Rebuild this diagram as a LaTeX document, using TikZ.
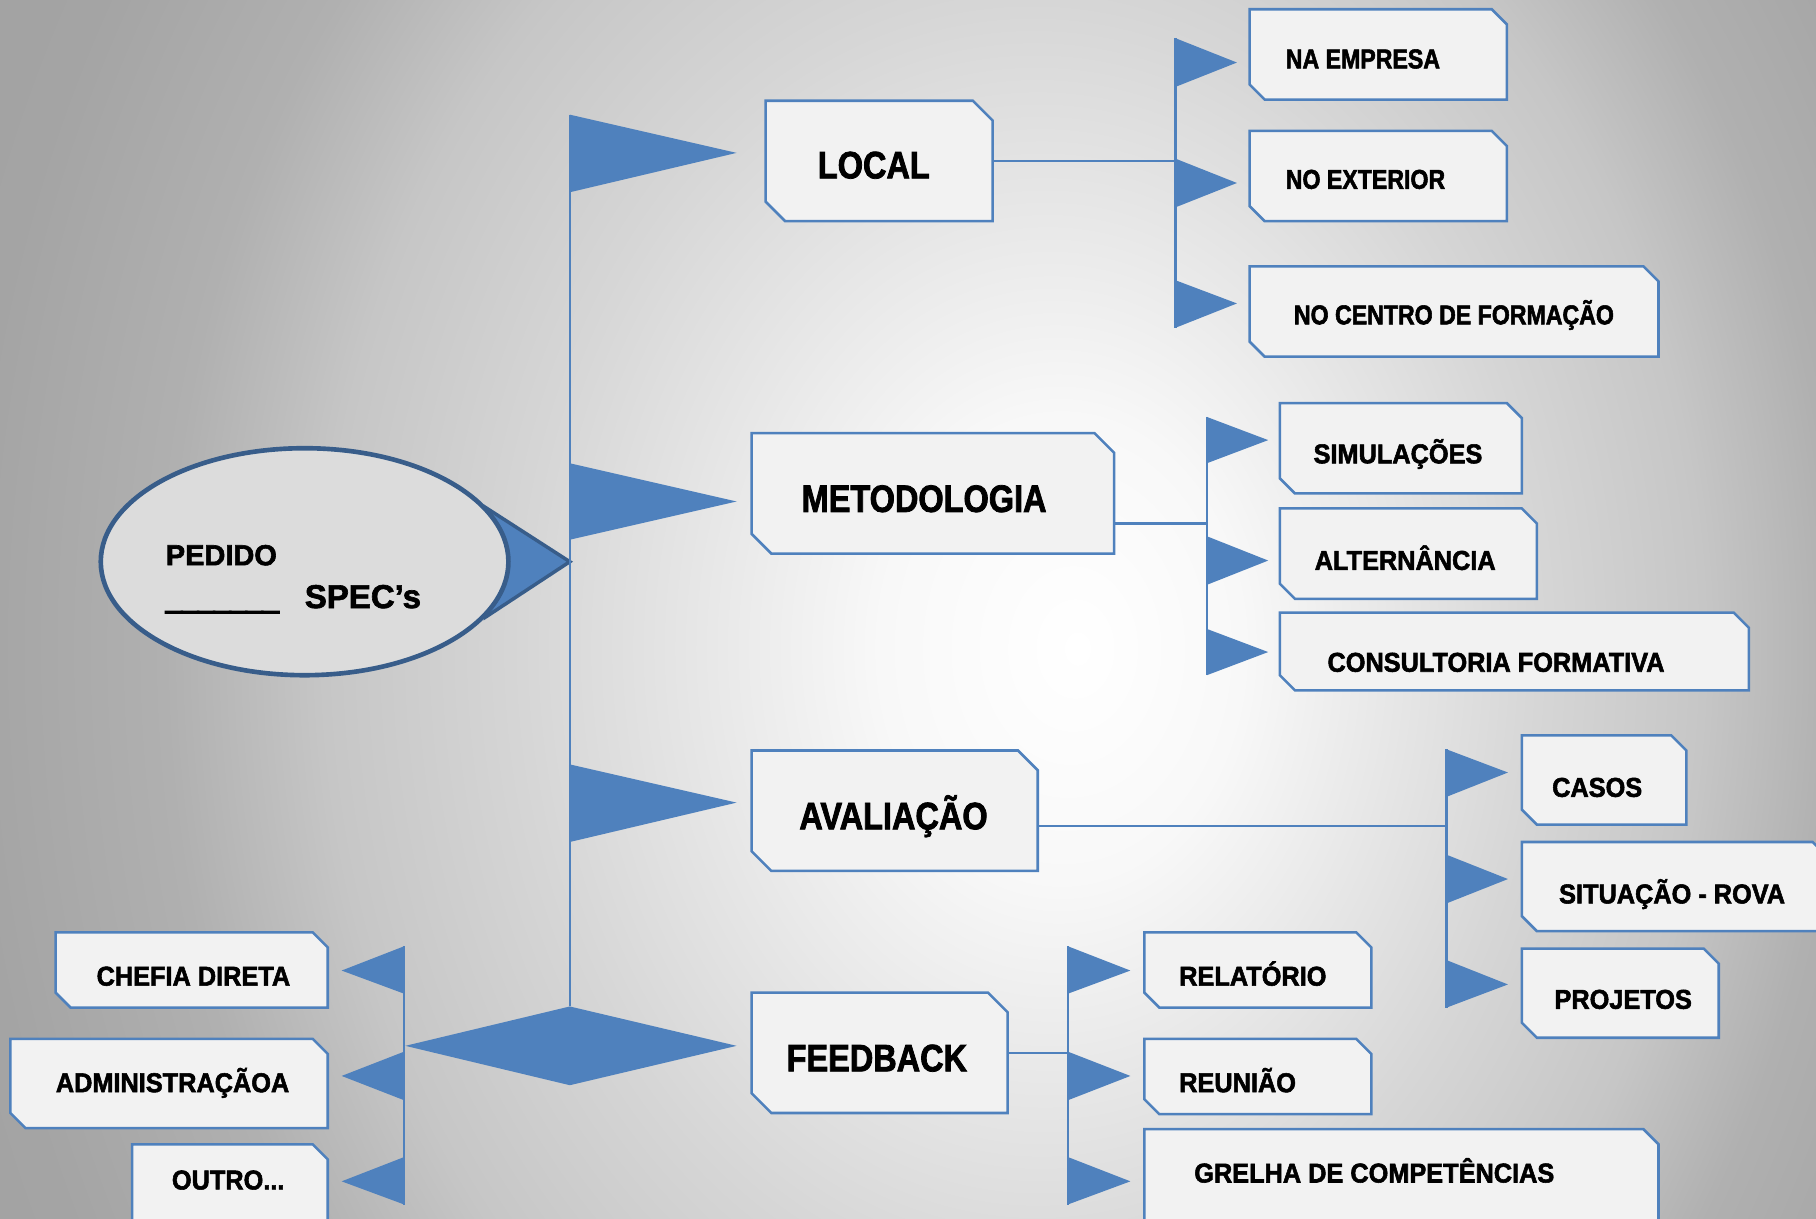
\documentclass[tikz,border=0pt]{standalone}
\usepackage{fontspec}
\newfontfamily\mainfnt{Liberation Sans}[FakeStretch=0.85, BoldFeatures={FakeBold=2}]
\newfontfamily\subfnt{Liberation Sans}[FakeStretch=0.93, BoldFeatures={FakeBold=2}]
\newfontfamily\ellfont{Liberation Sans}[BoldFeatures={FakeBold=2}]
\newfontfamily\ulfont{Liberation Sans}[BoldFeatures={FakeBold=7}]
\usetikzlibrary{shapes.geometric}
\definecolor{flagblue}{HTML}{4F81BD}
\definecolor{ellblue}{HTML}{385D8A}
\definecolor{boxgray}{HTML}{F2F2F2}
\definecolor{ellgray}{HTML}{DCDCDC}
\definecolor{bgA}{HTML}{F8F8F8}
\definecolor{bgB}{HTML}{D6D6D6}
\definecolor{bgC}{HTML}{C6C6C6}
\definecolor{bgD}{HTML}{B0B0B0}
\definecolor{bgE}{HTML}{A4A4A4}
\definecolor{bgF}{HTML}{969696}
\pgfdeclareradialshading{bgshade}{\pgfpoint{4.7bp}{0bp}}{color(0bp)=(white); color(5bp)=(bgA); color(14bp)=(bgB); color(19bp)=(bgC); color(23bp)=(bgD); color(28bp)=(bgE); color(50bp)=(bgF)}
\newcommand\snipbox[6]{%
  \node[boxanchor, minimum width=#4pt, minimum height=#5pt] (#1) at (#2,#3) {};
  \path[boxsh] (#1.north west) -- ([xshift=-#6pt]#1.north east) -- ([yshift=-#6pt]#1.north east) -- (#1.south east) -- ([xshift=#6pt]#1.south west) -- ([yshift=#6pt]#1.south west) -- cycle;}
\newcommand\flagR[5]{\fill[flagfill] (#1,#2) -- (#1,#3) -- (#4,#5) -- cycle;}
\begin{document}
\begin{tikzpicture}[x=1pt,y=-1pt,
  conn/.style={draw=flagblue, line width=2pt},
  flagfill/.style={fill=flagblue},
  boxsh/.style={fill=boxgray, draw=flagblue, line width=2.2pt, line join=miter},
  boxanchor/.style={rectangle, inner sep=0pt, outer sep=0pt, anchor=north west, draw=none},
  maintext/.style={font=\mainfnt\bfseries\fontsize{33}{36}\selectfont, inner sep=0pt, anchor=base west},
  loctext/.style={font=\mainfnt\bfseries\fontsize{23.5}{26}\selectfont, inner sep=0pt, anchor=base west},
  subtext/.style={font=\subfnt\bfseries\fontsize{23.5}{26}\selectfont, inner sep=0pt, anchor=base west},
  subtextc/.style={font=\subfnt\bfseries\fontsize{23.5}{26}\selectfont, inner sep=0pt, anchor=base}]
\useasboundingbox (0,0) rectangle (1568,1052);
\begin{scope}
  \clip (0,0) rectangle (1568,1052);
  \shade[shading=bgshade] (0,-440) rectangle (1568,1560);
\end{scope}

% ---------- central ellipse ----------
\filldraw[fill=flagblue, draw=ellblue, line width=3pt, line join=miter] (419,438) -- (492,485) -- (419,533) -- cycle;
\node[ellipse, draw=ellblue, line width=4pt, fill=ellgray, minimum width=352pt, minimum height=196pt, inner sep=0pt] (pedido) at (263,485) {};
\node[font=\ellfont\bfseries\fontsize{25}{28}\selectfont, inner sep=0pt, anchor=base west] (tPedido) at (143,488) {PEDIDO};
\node[font=\ulfont\bfseries\fontsize{25}{28}\selectfont, inner sep=0pt, anchor=base west] (tLine) at (143,526) {\_\_\_\_\_\_\_};
\node[font=\ellfont\bfseries\fontsize{28.5}{30}\selectfont, inner sep=0pt, anchor=base west] (tSpec) at (263,525) {SPEC’s};

% ---------- main bar ----------
\coordinate (mainT) at (492,99);
\coordinate (mainB) at (492,869);
\draw[conn] (mainT) -- (mainB);
\flagR{492}{99}{166}{636}{132}
\flagR{492}{400}{466}{636}{433}
\flagR{492}{660}{727}{636}{693}
\fill[flagfill] (350,903) -- (492,869) -- (636,903) -- (492,937) -- cycle;

% ---------- main boxes ----------
\snipbox{bLocal}{661}{87}{196}{104}{17}
\snipbox{bMetod}{649}{374}{313}{104}{17}
\snipbox{bAval}{649}{648}{247}{104}{17}
\snipbox{bFeed}{649}{857}{221}{104}{17}
\node[maintext] (tLocal) at (706,154) {LOCAL};
\node[maintext] (tMetod) at (692,442) {METODOLOGIA};
\node[maintext] (tAval) at (690,716) {AVALIAÇÃO};
\node[maintext] (tFeed) at (679,925) {FEEDBACK};

% ---------- LOCAL branch ----------
\coordinate (lJoin) at (1015,139);
\coordinate (lT) at (1015,33);
\coordinate (lB) at (1015,283);
\draw[conn] (bLocal.east |- lJoin) -- (lJoin);
\draw[conn] (lT) -- (lB);
\flagR{1015}{33}{75}{1068}{54}
\flagR{1015}{137}{179}{1068}{158}
\flagR{1015}{242}{283}{1068}{262}
\snipbox{bEmp}{1079}{8}{222}{78}{13}
\snipbox{bExt}{1079}{113}{222}{78}{13}
\snipbox{bCen}{1079}{230}{353}{78}{13}
\node[loctext] (tEmp) at (1110,59) {NA EMPRESA};
\node[loctext] (tExt) at (1110,163) {NO EXTERIOR};
\node[loctext] (tCen) at (1117,280) {NO CENTRO DE FORMAÇÃO};

% ---------- METODOLOGIA branch ----------
\coordinate (mJoin) at (1042,452);
\coordinate (mT) at (1042,360);
\coordinate (mB) at (1042,583);
\draw[conn] (bMetod.east |- mJoin) -- (mJoin);
\draw[conn] (mT) -- (mB);
\flagR{1042}{360}{400}{1095}{380}
\flagR{1042}{463}{505}{1095}{484}
\flagR{1042}{543}{583}{1095}{563}
\snipbox{bSim}{1105}{348}{209}{78}{13}
\snipbox{bAlt}{1105}{439}{222}{78}{13}
\snipbox{bCon}{1105}{529}{405}{67}{13}
\node[subtext] (tSim) at (1134,400) {SIMULAÇÕES};
\node[subtext] (tAlt) at (1135,492) {ALTERNÂNCIA};
\node[subtext] (tCon) at (1146,580) {CONSULTORIA FORMATIVA};

% ---------- AVALIACAO branch ----------
\coordinate (aJoin) at (1249,713);
\coordinate (aT) at (1249,647);
\coordinate (aB) at (1249,870);
\draw[conn] (bAval.east |- aJoin) -- (aJoin);
\draw[conn] (aT) -- (aB);
\flagR{1249}{647}{688}{1302}{667}
\flagR{1249}{738}{780}{1302}{759}
\flagR{1249}{829}{870}{1302}{850}
\snipbox{bCas}{1314}{635}{142}{77}{13}
\snipbox{bSit}{1314}{727}{264}{77}{13}
\snipbox{bPro}{1314}{819}{170}{77}{13}
\node[subtext] (tCas) at (1340,688) {CASOS};
\node[subtext] (tSit) at (1346,780) {SITUAÇÃO - ROVA};
\node[subtext] (tPro) at (1342,871) {PROJETOS};

% ---------- FEEDBACK branch ----------
\coordinate (fJoin) at (922,909);
\coordinate (fT) at (922,817);
\coordinate (fB) at (922,1040);
\draw[conn] (bFeed.east |- fJoin) -- (fJoin);
\draw[conn] (fT) -- (fB);
\flagR{922}{817}{858}{976}{838}
\flagR{922}{908}{950}{976}{929}
\flagR{922}{999}{1040}{976}{1020}
\snipbox{bRel}{988}{805}{196}{65}{13}
\snipbox{bReu}{988}{897}{196}{65}{13}
\snipbox{bGre}{988}{975}{444}{95}{13}
\node[subtext] (tRel) at (1018,851) {RELATÓRIO};
\node[subtext] (tReu) at (1018,943) {REUNIÃO};
\node[subtext] (tGre) at (1031,1021) {GRELHA DE COMPETÊNCIAS};

% ---------- left branch ----------
\coordinate (eT) at (349,817);
\coordinate (eB) at (349,1040);
\draw[conn] (eT) -- (eB);
\flagR{349}{817}{858}{295}{838}
\flagR{349}{908}{950}{295}{929}
\flagR{349}{999}{1040}{295}{1020}
\snipbox{bChe}{48}{805}{235}{65}{13}
\snipbox{bAdm}{9}{897}{274}{77}{13}
\snipbox{bOut}{114}{988}{169}{90}{13}
\node[subtextc] (tChe) at (167,851) {CHEFIA DIRETA};
\node[subtextc] (tAdm) at (149,943) {ADMINISTRAÇÃOA};
\node[subtextc] (tOut) at (197,1027) {OUTRO...};
\end{tikzpicture}
\end{document}
